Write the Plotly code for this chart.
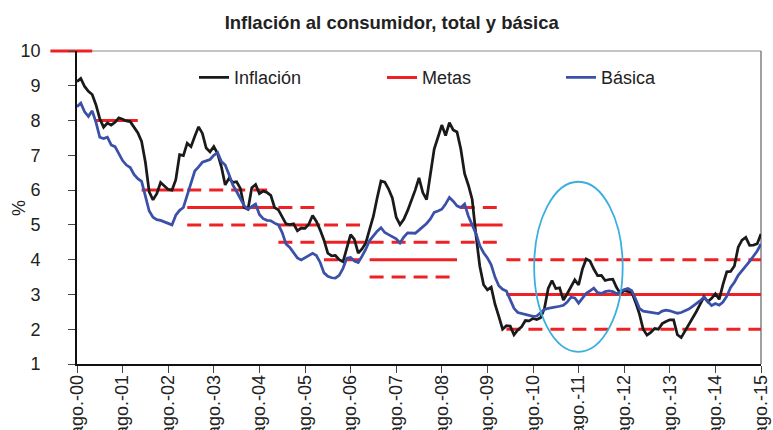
import plotly.graph_objects as go

# Variación anual del IPC (%), mensual de agosto de 2000 a agosto de 2015
inflacion = [
    9.12, 9.21, 8.98, 8.84, 8.75, 8.45, 8.05, 7.81, 7.93, 7.87, 7.95, 8.08,
    8.04, 7.99, 7.97, 7.80, 7.65, 7.40, 6.80, 5.95, 5.72, 5.90, 6.22, 6.12,
    6.02, 6.00, 6.30, 7.02, 6.99, 7.35, 7.25, 7.55, 7.82, 7.63, 7.21, 7.10,
    7.25, 7.05, 6.67, 6.15, 6.34, 6.22, 6.24, 6.05, 5.50, 5.45, 6.07, 6.16,
    5.90, 5.97, 5.93, 5.85, 5.50, 5.43, 5.25, 5.03, 5.01, 5.03, 4.83, 4.91,
    4.90, 5.02, 5.27, 5.10, 4.85, 4.56, 4.19, 4.11, 4.12, 4.00, 3.94, 4.32,
    4.72, 4.58, 4.19, 4.31, 4.48, 4.87, 5.25, 5.78, 6.26, 6.23, 6.03, 5.77,
    5.22, 5.01, 5.16, 5.41, 5.69, 6.00, 6.35, 5.93, 5.73, 6.39, 7.18, 7.52,
    7.87, 7.57, 7.94, 7.73, 7.67, 7.18, 6.47, 6.14, 5.73, 4.70, 3.81, 3.28,
    3.13, 3.21, 2.72, 2.37, 2.00, 2.10, 2.09, 1.84, 1.98, 2.07, 2.25, 2.24,
    2.31, 2.28, 2.33, 2.59, 3.17, 3.40, 3.17, 3.19, 2.84, 3.02, 3.23, 3.42,
    3.27, 3.73, 4.02, 3.96, 3.73, 3.54, 3.55, 3.40, 3.43, 3.44, 3.20, 3.03,
    3.11, 3.08, 3.06, 2.77, 2.44, 2.00, 1.83, 1.91, 2.02, 2.00, 2.16, 2.22,
    2.27, 2.27, 1.84, 1.76, 1.94, 2.13, 2.32, 2.51, 2.72, 2.93, 2.79, 2.89,
    3.02, 2.86, 3.29, 3.65, 3.66, 3.82, 4.36, 4.56, 4.64, 4.41, 4.42, 4.46,
    4.74,
]

# Inflación básica (%), mismo periodo
basica = [
    8.40, 8.50, 8.25, 8.12, 8.28, 7.95, 7.52, 7.48, 7.52, 7.30, 7.25, 7.03,
    6.85, 6.72, 6.65, 6.45, 6.33, 6.25, 5.80, 5.40, 5.22, 5.15, 5.13, 5.08,
    5.03, 5.00, 5.28, 5.42, 5.50, 5.85, 6.20, 6.55, 6.67, 6.80, 6.84, 6.88,
    7.00, 7.08, 6.82, 6.72, 6.45, 6.15, 5.96, 5.75, 5.55, 5.45, 5.52, 5.60,
    5.30, 5.18, 5.13, 5.12, 5.05, 5.00, 4.78, 4.45, 4.35, 4.20, 4.05, 3.99,
    4.05, 4.13, 4.18, 4.12, 3.92, 3.62, 3.52, 3.48, 3.47, 3.55, 3.75, 4.04,
    4.06, 3.96, 3.92, 4.10, 4.30, 4.55, 4.70, 4.82, 4.92, 4.78, 4.72, 4.66,
    4.60, 4.48, 4.65, 4.77, 4.76, 4.76, 4.85, 4.95, 5.04, 5.17, 5.36, 5.40,
    5.45, 5.60, 5.79, 5.68, 5.55, 5.50, 5.60, 5.25, 5.00, 4.75, 4.40, 4.20,
    4.05, 3.85, 3.50, 3.25, 3.15, 3.10, 2.85, 2.60, 2.48, 2.45, 2.42, 2.38,
    2.37, 2.38, 2.47, 2.57, 2.60, 2.62, 2.62, 2.66, 2.69, 2.78, 2.92, 2.90,
    2.75, 2.90, 3.03, 3.10, 3.18, 3.05, 3.03, 3.08, 3.10, 3.08, 3.02, 3.08,
    3.14, 3.17, 3.11, 2.87, 2.60, 2.52, 2.50, 2.50, 2.47, 2.45, 2.52, 2.55,
    2.53, 2.50, 2.46, 2.48, 2.53, 2.58, 2.66, 2.73, 2.82, 2.92, 2.80, 2.68,
    2.74, 2.69, 2.78, 2.95, 3.20, 3.35, 3.55, 3.68, 3.80, 3.95, 4.10, 4.25,
    4.45,
]

# Metas anuales de inflación: meta puntual y rango (techo / piso)
anios_meta = list(range(2000, 2016))
meta_puntual = [10, 8, 6, 5.5, 5.5, 5, 4.5, 4, 4, 5, 3, 3, 3, 3, 3, 3]
meta_techo = [None, None, None, 6, 6, 5.5, 5, 4.5, 4.5, 5.5, 4, 4, 4, 4, 4, 4]
meta_piso = [None, None, None, 5, 5, 4.5, 4, 3.5, 3.5, 4.5, 2, 2, 2, 2, 2, 2]

etiquetas_x = [f"ago.-{a % 100:02d}" for a in range(2000, 2016)]

n_meses = len(inflacion)
meses = list(range(n_meses))          # 0 = agosto de 2000
ultimo_mes = n_meses - 1

FUENTE = "Liberation Sans, Arial, sans-serif"
NEGRO = "#1a1a1a"
ROJO = "#ee2225"
AZUL = "#3b50a8"

# Geometría del lienzo
ANCHO, ALTO = 773, 430
M_IZQ, M_DER, M_SUP, M_INF = 45, 12, 44, 66
ancho_papel = ANCHO - M_IZQ - M_DER
alto_papel = ALTO - M_SUP - M_INF
D0 = 32 / ancho_papel          # inicio del área visible del gráfico
E1 = 313 / alto_papel          # tope del área visible del gráfico
Y_MIN, Y_MAX = 1, 10
# Ejes auxiliares (misma escala) para que las metas puedan salir del marco
X_EXT = ultimo_mes - ultimo_mes / (1 - D0)
Y_EXT = Y_MIN + (Y_MAX - Y_MIN) / E1


def tramos(valores):
    """Une años consecutivos con la misma meta en un solo segmento (ene-dic)."""
    xs, ys = [], []
    i = 0
    while i < len(valores):
        j = i
        while j + 1 < len(valores) and valores[j + 1] == valores[i]:
            j += 1
        if valores[i] is not None:
            x0 = (anios_meta[i] - 2000) * 12 - 7
            x1 = min((anios_meta[j] - 2000) * 12 + 4, ultimo_mes)
            xs += list(range(x0, x1 + 1)) + [None]
            ys += [valores[i]] * (x1 - x0 + 1) + [None]
        i = j + 1
    return xs, ys


fig = go.Figure()

xm, ym = tramos(meta_puntual)
fig.add_trace(go.Scatter(
    x=xm, y=ym, name="Metas", mode="lines", xaxis="x", yaxis="y",
    line=dict(color=ROJO, width=3), legend="legend2", connectgaps=False,
))
for banda in (meta_techo, meta_piso):
    xb, yb = tramos(banda)
    fig.add_trace(go.Scatter(
        x=xb, y=yb, mode="lines", xaxis="x", yaxis="y", showlegend=False,
        line=dict(color=ROJO, width=3, dash="14px,8px"), connectgaps=False,
    ))

fig.add_trace(go.Scatter(
    x=meses, y=inflacion, name="Inflación", mode="lines",
    xaxis="x2", yaxis="y2", line=dict(color=NEGRO, width=2.75),
    legend="legend",
))
fig.add_trace(go.Scatter(
    x=meses, y=basica, name="Básica", mode="lines",
    xaxis="x2", yaxis="y2", line=dict(color=AZUL, width=2.75),
    legend="legend3",
))

# Óvalo que resalta el periodo alrededor de agosto de 2011
fig.add_shape(type="circle", xref="x2", yref="y2",
              x0=120.3, x1=143.6, y0=1.35, y1=6.24,
              line=dict(color="#3aaee0", width=1.8))

# Bordes superior y derecho del marco (grises)
fig.add_shape(type="line", xref="paper", yref="paper", layer="below",
              x0=D0, x1=1, y0=E1, y1=E1, line=dict(color="#8a8a8a", width=1.2))
fig.add_shape(type="line", xref="paper", yref="paper", layer="below",
              x0=1, x1=1, y0=0, y1=E1, line=dict(color="#6e6e6e", width=1.3))

# Título del eje vertical
fig.add_annotation(text="%", xref="paper", yref="paper",
                   x=(18.5 - M_IZQ) / ancho_papel, y=E1 / 2,
                   xanchor="center", yanchor="middle", textangle=-90,
                   showarrow=False,
                   font=dict(family=FUENTE, size=18, color="#222"))

leyenda = dict(font=dict(family=FUENTE, size=18, color="#222"),
               bgcolor="rgba(0,0,0,0)", borderwidth=0,
               xanchor="left", yanchor="middle", y=(364 - 77.7) / alto_papel)
fig.update_layout(
    width=ANCHO, height=ALTO,
    margin=dict(l=M_IZQ, r=M_DER, t=M_SUP, b=M_INF, autoexpand=False),
    paper_bgcolor="white", plot_bgcolor="rgba(0,0,0,0)",
    font=dict(family=FUENTE, size=18, color="#222"),
    title=dict(text="<b>Inflación al consumidor, total y básica</b>",
               x=391.7 / ANCHO, xanchor="center", xref="container",
               y=1 - 22.5 / ALTO, yanchor="middle", yref="container",
               font=dict(family=FUENTE, size=18.5, color="#222")),
    legend=dict(leyenda, x=(194 - M_IZQ) / ancho_papel),
    legend2=dict(leyenda, x=(382 - M_IZQ) / ancho_papel),
    legend3=dict(leyenda, x=(561 - M_IZQ) / ancho_papel),
    xaxis=dict(domain=[0, 1], range=[X_EXT, ultimo_mes], visible=False,
               fixedrange=True),
    yaxis=dict(domain=[0, 1], range=[Y_MIN, Y_EXT], visible=False,
               fixedrange=True),
    xaxis2=dict(domain=[D0, 1], range=[0, ultimo_mes], anchor="y2",
                tickvals=list(range(0, n_meses, 12)), ticktext=etiquetas_x,
                tickangle=-90, ticks="outside", ticklen=7, tickwidth=1.2,
                tickcolor="#444", showline=True, linecolor="#111",
                linewidth=1.6, showgrid=False, zeroline=False,
                automargin=False, ticklabelstandoff=-5,
                tickfont=dict(family=FUENTE, size=18)),
    yaxis2=dict(domain=[0, E1], range=[Y_MIN, Y_MAX], anchor="x2", dtick=1,
                ticks="outside", ticklen=7, tickwidth=1.2, tickcolor="#444",
                showline=True, linecolor="#111", linewidth=1.6,
                showgrid=False, zeroline=False, automargin=False,
                ticklabelstandoff=24, tickfont=dict(family=FUENTE, size=18)),
)

fig.write_html("out.html")
